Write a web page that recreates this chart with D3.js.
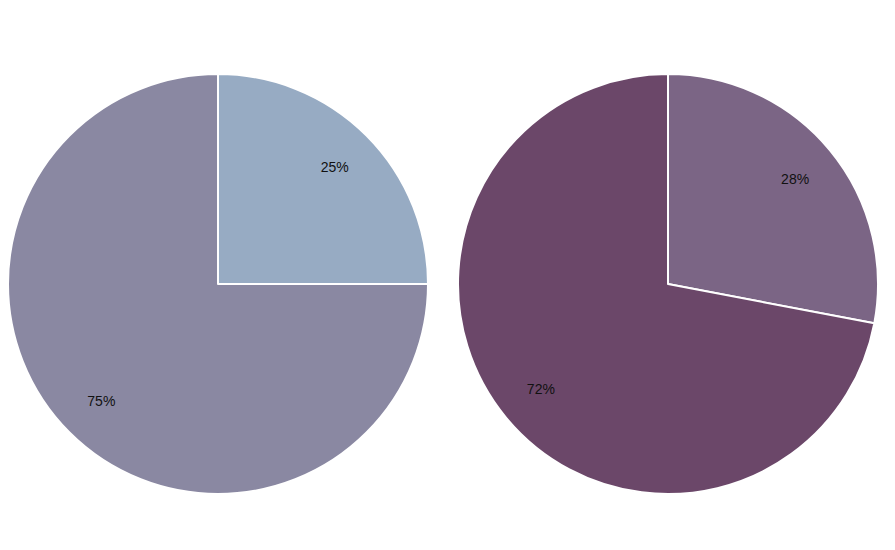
<!DOCTYPE html>
<html><head><meta charset="utf-8">
<script src="https://cdn.jsdelivr.net/npm/d3@7"></script>
<style>body{margin:0;background:#fff;}svg{display:block;}</style>
</head><body>
<svg id="c" width="895" height="550"></svg>
<script>
const leftLabels = ["A", "B"];
const leftValues = [25, 75];
const leftColors = ["#97abc3", "#8a88a2"];
const rightLabels = ["A", "B"];
const rightValues = [28, 72];
const rightColors = ["#7b6585", "#6b4769"];

const svg = d3.select("#c");
const R = 210;
function drawPie(cx, cy, labels, values, colors) {
  const data = labels.map((l, i) => ({label: l, value: values[i], color: colors[i]}));
  const pie = d3.pie().sort(null).value(d => d.value);
  const arc = d3.arc().innerRadius(0).outerRadius(R);
  const labelArc = d3.arc().innerRadius(165).outerRadius(165);
  const total = d3.sum(values);
  const g = svg.append("g").attr("transform", `translate(${cx},${cy})`);
  const arcs = pie(data);
  g.selectAll("path").data(arcs).join("path")
    .attr("d", arc).attr("fill", d => d.data.color)
    .attr("stroke", "#fff").attr("stroke-width", 2).attr("stroke-linejoin", "round");
  g.selectAll("text").data(arcs).join("text")
    .attr("transform", d => `translate(${labelArc.centroid(d)})`)
    .attr("text-anchor", "middle").attr("dy", "0.35em")
    .attr("font-family", "Liberation Sans, Arial, sans-serif").attr("font-size", 14)
    .attr("fill", "#111")
    .text(d => Math.round(d.data.value / total * 100) + "%");
}
drawPie(218, 284, leftLabels, leftValues, leftColors);
drawPie(668, 284, rightLabels, rightValues, rightColors);
</script>
</body></html>
